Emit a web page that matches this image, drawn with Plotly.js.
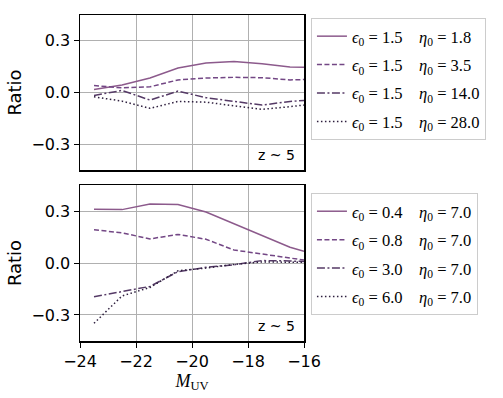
<!DOCTYPE html>
<html>
<head>
<meta charset="utf-8">
<script src="https://cdn.plot.ly/plotly-3.0.1.min.js"></script>
<style>
  body { margin: 0; background: #fff; }
  #plotDiv { width: 503px; height: 398px; }
</style>
</head>
<body>
<div id="plotDiv"></div>
<script>
// magnitude bins (last one is clipped by the axis range)
var mUV = [-23.5, -22.5, -21.5, -20.5, -19.5, -18.5, -17.5, -16.5, -16.0];

// top panel: eps0 = 1.5, varying eta0
var topNames = ['1.8', '3.5', '14.0', '28.0'];
var topEta18 = [0.017, 0.044, 0.084, 0.142, 0.171, 0.180, 0.167, 0.148, 0.146];
var topEta35 = [0.040, 0.027, 0.033, 0.073, 0.084, 0.088, 0.086, 0.073, 0.075];
var topEta140 = [-0.017, 0.012, -0.044, 0.008, -0.030, -0.052, -0.073, -0.052, -0.046];
var topEta280 = [-0.025, -0.050, -0.092, -0.052, -0.056, -0.075, -0.098, -0.082, -0.073];

// bottom panel: eta0 = 7.0, varying eps0
var botNames = ['0.4', '0.8', '3.0', '6.0'];
var botEps04 = [0.310, 0.308, 0.341, 0.337, 0.294, 0.226, 0.155, 0.091, 0.068];
var botEps08 = [0.192, 0.174, 0.139, 0.165, 0.137, 0.075, 0.052, 0.029, 0.017];
var botEps30 = [-0.195, -0.166, -0.135, -0.050, -0.025, -0.010, 0.014, 0.012, 0.008];
var botEps60 = [-0.348, -0.190, -0.141, -0.045, -0.029, -0.008, 0.006, 0.004, 0.004];

var lineColors = ['#8c5a8c', '#734785', '#553a66', '#2e1f3e'];
var lineDashes = ['solid', '5px,2.5px', '8px,2.5px,2px,2.5px', '1.5px,2.5px'];

var sp = '\u00a0\u00a0\u00a0\u00a0';

function makeTrace(y, i, name, xaxis, yaxis, legend) {
    return {
        x: mUV,
        y: y,
        mode: 'lines',
        type: 'scatter',
        name: name,
        xaxis: xaxis,
        yaxis: yaxis,
        legend: legend,
        legendgroup: legend + i,
        line: {color: lineColors[i], dash: lineDashes[i], width: 1.5}
    };
}

var topSeries = [topEta18, topEta35, topEta140, topEta280];
var botSeries = [botEps04, botEps08, botEps30, botEps60];
var plotData = [];
topSeries.forEach(function (s, i) {
    plotData.push(makeTrace(s, i, '<i>ϵ</i><sub>0</sub> = 1.5' + sp + '<i>η</i><sub>0</sub> = ' + topNames[i], 'x2', 'y', 'legend'));
});
botSeries.forEach(function (s, i) {
    plotData.push(makeTrace(s, i, '<i>ϵ</i><sub>0</sub> = ' + botNames[i] + sp + '<i>η</i><sub>0</sub> = 7.0', 'x', 'y2', 'legend2'));
});

var tickFont = {family: 'DejaVu Sans', size: 16, color: '#000'};
var legendBase = {
    xref: 'paper', yref: 'paper',
    xanchor: 'left', yanchor: 'top',
    bgcolor: '#fff',
    bordercolor: '#cccccc',
    borderwidth: 1,
    traceorder: 'grouped',
    tracegroupgap: 4,
    font: {family: 'Liberation Serif', size: 16.5, color: '#000'}
};

function yAxisOpt(domain, anchor) {
    return {
        domain: domain,
        anchor: anchor,
        range: [-0.45, 0.45],
        tickvals: [-0.3, 0, 0.3],
        tickformat: '.1f',
        ticks: 'outside',
        ticklen: 5,
        tickcolor: '#000',
        showline: true,
        linecolor: '#000',
        linewidth: 1.5,
        mirror: true,
        showgrid: true,
        gridcolor: '#b0b0b0',
        zeroline: false,
        tickfont: tickFont,
        title: {text: 'Ratio', font: {family: 'DejaVu Sans', size: 18, color: '#000'}, standoff: 5}
    };
}

function xAxisOpt(anchor) {
    return {
        anchor: anchor,
        range: [-24, -16],
        dtick: 2,
        ticks: 'outside',
        ticklen: 5,
        tickcolor: '#000',
        showline: true,
        linecolor: '#000',
        linewidth: 1.5,
        mirror: true,
        showgrid: true,
        gridcolor: '#b0b0b0',
        zeroline: false,
        tickfont: tickFont
    };
}

var xBottom = xAxisOpt('y2');
xBottom.title = {text: '<i>M</i><sub>UV</sub>', font: {family: 'Liberation Serif', size: 18, color: '#000'}, standoff: 2};
var xTop = xAxisOpt('y');
xTop.matches = 'x';
xTop.showticklabels = false;
xTop.ticks = '';

var layoutOpt = {
    width: 503,
    height: 398,
    paper_bgcolor: '#fff',
    plot_bgcolor: '#fff',
    margin: {l: 80, r: 199, t: 15, b: 57},
    showlegend: true,
    xaxis: xBottom,
    xaxis2: xTop,
    yaxis: yAxisOpt([0.5245, 1], 'x2'),
    yaxis2: yAxisOpt([0, 0.4785], 'x'),
    legend: Object.assign({}, legendBase, {x: 1.031, y: 0.991}),
    legend2: Object.assign({}, legendBase, {x: 1.031, y: 0.454}),
    annotations: [
        {text: 'z ~ 5', xref: 'x2 domain', yref: 'y domain', x: 0.97, y: 0.03,
         xanchor: 'right', yanchor: 'bottom', showarrow: false,
         font: {family: 'DejaVu Sans', size: 14, color: '#000'}},
        {text: 'z ~ 5', xref: 'x domain', yref: 'y2 domain', x: 0.97, y: 0.03,
         xanchor: 'right', yanchor: 'bottom', showarrow: false,
         font: {family: 'DejaVu Sans', size: 14, color: '#000'}}
    ]
};

Plotly.newPlot('plotDiv', plotData, layoutOpt, {displayModeBar: false, staticPlot: true});
</script>
</body>
</html>
